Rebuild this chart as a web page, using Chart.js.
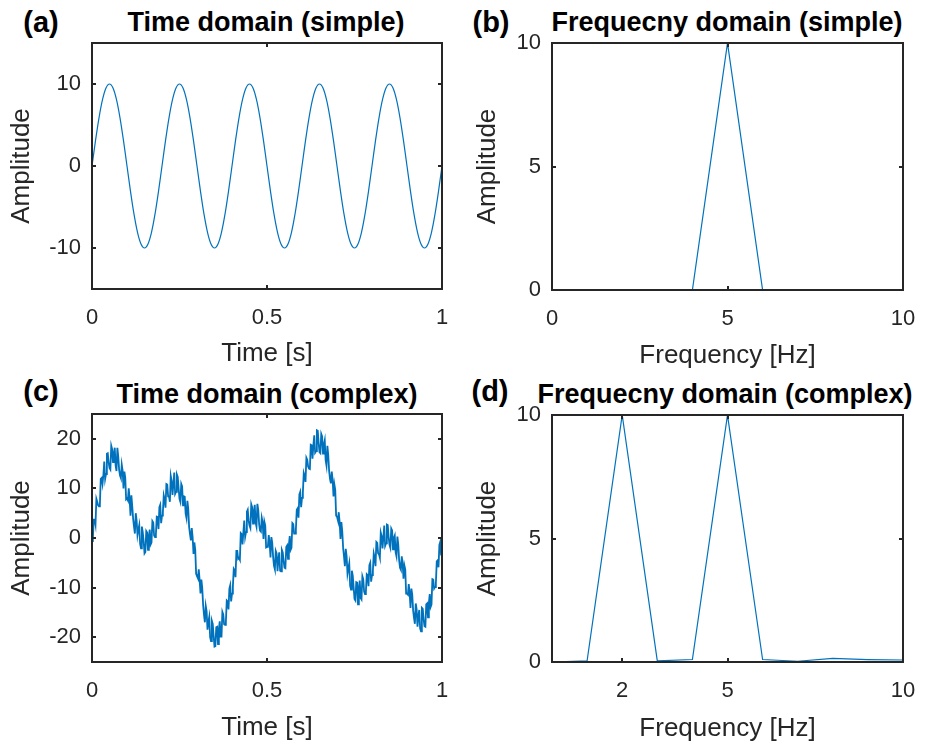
<!DOCTYPE html>
<html>
<head>
<meta charset="utf-8">
<script src="https://cdn.jsdelivr.net/npm/chart.js@4.4.1/dist/chart.umd.min.js"></script>
<style>
html,body{margin:0;padding:0;background:#fff;width:925px;height:746px;overflow:hidden;font-family:"Liberation Sans",Arial,sans-serif;}
.pane{position:absolute;}
.t{position:absolute;font-weight:bold;color:#000;white-space:nowrap;transform:translate(-50%,-50%);line-height:1;}
</style>
</head>
<body>
<div class="t" style="left:41px;top:22px;font-size:29px">(a)</div>
<div class="t" style="left:266px;top:22px;font-size:27px">Time domain (simple)</div>
<div class="t" style="left:491px;top:22px;font-size:29px">(b)</div>
<div class="t" style="left:727px;top:22px;font-size:27px">Frequecny domain (simple)</div>
<div class="t" style="left:41px;top:391px;font-size:29px">(c)</div>
<div class="t" style="left:267px;top:394px;font-size:27px">Time domain (complex)</div>
<div class="t" style="left:490px;top:391px;font-size:29px">(d)</div>
<div class="t" style="left:725px;top:394px;font-size:27px">Frequecny domain (complex)</div>

<div class="pane" style="left:0px;top:30px"><canvas id="ca" width="470" height="345"></canvas></div>
<div class="pane" style="left:470px;top:30px"><canvas id="cb" width="455" height="345"></canvas></div>
<div class="pane" style="left:0px;top:400px"><canvas id="cc" width="470" height="346"></canvas></div>
<div class="pane" style="left:470px;top:400px"><canvas id="cd" width="455" height="346"></canvas></div>

<script>
// ---------- data ----------
// (a) simple time signal, sampled every 0.01 s
const simpleTimeStep = 0.01;
const simpleAmp = [
 0,3.09,5.88,8.09,9.51,10,9.51,8.09,5.88,3.09,0,-3.09,-5.88,-8.09,-9.51,-10,-9.51,-8.09,-5.88,-3.09,
 0,3.09,5.88,8.09,9.51,10,9.51,8.09,5.88,3.09,0,-3.09,-5.88,-8.09,-9.51,-10,-9.51,-8.09,-5.88,-3.09,
 0,3.09,5.88,8.09,9.51,10,9.51,8.09,5.88,3.09,0,-3.09,-5.88,-8.09,-9.51,-10,-9.51,-8.09,-5.88,-3.09,
 0,3.09,5.88,8.09,9.51,10,9.51,8.09,5.88,3.09,0,-3.09,-5.88,-8.09,-9.51,-10,-9.51,-8.09,-5.88,-3.09,
 0,3.09,5.88,8.09,9.51,10,9.51,8.09,5.88,3.09,0,-3.09,-5.88,-8.09,-9.51,-10,-9.51,-8.09,-5.88,-3.09,
 0
];
// (b) simple spectrum
const freqSimple = [0,1,2,3,4,5,6,7,8,9,10];
const ampSimple  = [0,0,0,0,0,10,0,0,0,0,0];
// (c) complex (noisy) time signal, sampled every 0.0025 s
const complexTimeStep = 0.0025;
const complexAmp = [
 -0.6,-0.1,3.7,3.7,2.7,7.9,7.3,6.6,6.4,6.7,
 11.9,12.1,10.9,12.7,15.4,11.9,12.9,17.0,17.1,15.3,
 14.1,13.8,18.6,17.9,15.3,17.0,18.2,14.6,13.5,18.2,
 16.4,13.8,12.6,12.1,14.8,13.6,10.0,13.4,12.2,7.8,
 8.0,7.6,10.0,7.8,4.5,8.6,6.4,3.9,2.3,0.9,
 5.0,3.5,0.6,1.7,2.6,-1.2,-2.1,2.3,1.2,-0.6,
 -3.1,-2.8,1.4,1.1,-2.4,0.4,1.7,-1.3,-0.9,3.4,
 3.1,0.5,0.2,0.6,4.3,4.2,1.8,6.2,6.7,3.0,
 4.5,5.2,8.6,7.8,6.1,10.9,10.8,8.4,8.4,7.3,
 12.5,11.5,8.7,10.9,13.2,8.9,9.3,12.8,12.3,10.0,
 7.9,7.3,10.9,10.4,6.6,8.4,8.3,4.9,4.0,7.5,
 5.9,2.2,0.8,-0.5,2.0,0.2,-3.2,-0.9,-2.4,-7.2,
 -7.7,-8.1,-6.3,-8.5,-11.2,-8.4,-10.1,-13.5,-15.5,-17.0,
 -13.7,-14.8,-18.5,-16.9,-15.9,-20.0,-20.8,-16.7,-17.3,-19.7,
 -21.9,-21.8,-18.0,-17.9,-21.4,-18.4,-16.8,-19.9,-19.9,-14.9,
 -15.4,-17.4,-17.5,-16.9,-12.6,-12.8,-14.4,-10.2,-9.5,-12.8,
 -11.2,-9.8,-6.2,-6.5,-7.9,-2.6,-2.6,-4.2,-4.0,-4.4,
 1.0,0.8,-1.3,1.2,3.5,0.2,1.2,5.3,5.7,3.5,
 2.5,2.0,6.8,6.2,2.9,5.4,6.7,3.1,2.3,6.9,
 5.7,2.8,1.5,1.3,4.1,3.2,-0.2,3.3,2.5,-1.9,
 -1.8,-1.7,0.6,-1.0,-3.9,0.2,-1.0,-3.8,-5.6,-6.3,
 -2.6,-3.1,-6.7,-4.3,-2.9,-6.6,-6.7,-2.4,-2.9,-4.6,
 -6.0,-6.1,-1.8,-1.5,-4.2,-1.4,0.4,-2.4,-2.0,3.0,
 2.8,0.9,0.9,1.7,5.7,6.0,4.1,8.8,9.3,6.2,
 8.1,9.2,13.1,12.5,11.3,16.2,15.8,14.4,14.0,13.9,
 18.8,18.7,16.0,18.7,20.7,17.2,17.5,21.7,21.6,19.2,
 17.3,17.1,21.0,20.5,17.0,18.8,19.7,15.7,14.6,18.6,
 16.7,13.5,11.9,11.0,13.4,11.8,8.4,10.8,9.7,4.5,
 4.3,3.6,5.2,3.2,-0.2,3.2,1.4,-2.0,-3.7,-5.7,
 -2.2,-3.7,-7.2,-6.1,-5.1,-9.6,-10.4,-6.6,-7.6,-9.9,
 -12.3,-12.6,-8.9,-9.0,-13.4,-10.1,-8.6,-12.1,-12.4,-7.7,
 -8.3,-10.8,-11.3,-10.9,-7.3,-7.5,-9.7,-5.5,-5.0,-8.8,
 -7.5,-6.6,-3.1,-3.9,-5.7,-0.8,-1.0,-3.1,-3.3,-4.0,
 1.1,0.4,-2.1,0.1,2.5,-1.6,-1.1,2.7,2.6,0.2,
 -1.4,-2.0,1.9,1.5,-2.3,0.0,0.5,-2.9,-3.7,0.3,
 -1.3,-4.4,-6.0,-6.4,-3.7,-5.2,-8.2,-5.5,-6.3,-11.2,
 -11.2,-11.4,-9.3,-11.1,-14.1,-10.2,-11.4,-14.6,-16.1,-17.3,
 -13.2,-14.4,-17.9,-15.8,-14.5,-18.2,-18.8,-14.1,-14.3,-16.4,
 -17.8,-17.9,-13.4,-13.2,-16.0,-13.1,-11.3,-13.9,-13.4,-8.3,
 -8.4,-10.2,-9.9,-9.1,-4.7,-4.5,-5.9,-1.4,-0.8,-3.5,
 -1.0
];
// (d) complex spectrum
const freqComplex = [0,1,2,3,4,5,6,7,8,9,10];
const ampComplex  = [0,0.05,10,0.05,0.1,10,0.1,0.03,0.15,0.1,0.08];

// tick labels
const timeTicks = [0,0.5,1];
const ampTicksA = [-10,0,10];
const freqTicksB = [0,5,10];
const ampTicksBD = [0,5,10];
const ampTicksC = [-20,-10,0,10,20];
const freqTicksD = [2,5,10];

// ---------- drawing ----------
const FAMILY = '"Liberation Sans", Arial, Helvetica, sans-serif';
const AXIS = '#262626';
const LINE = '#0072BD';

const boxPlugin = {
  id: 'matlabBox',
  afterDraw(chart) {
    const {ctx, chartArea: a, scales: {x, y}} = chart;
    const L = 4;
    ctx.save();
    ctx.strokeStyle = AXIS;
    ctx.lineWidth = 2;
    ctx.beginPath();
    x.ticks.forEach(t => {
      const px = Math.round(x.getPixelForValue(t.value));
      ctx.moveTo(px, a.bottom); ctx.lineTo(px, a.bottom - L);
      ctx.moveTo(px, a.top); ctx.lineTo(px, a.top + L);
    });
    y.ticks.forEach(t => {
      const py = Math.round(y.getPixelForValue(t.value));
      ctx.moveTo(a.left, py); ctx.lineTo(a.left + L, py);
      ctx.moveTo(a.right, py); ctx.lineTo(a.right - L, py);
    });
    ctx.stroke();
    ctx.strokeRect(a.left, a.top, a.right - a.left, a.bottom - a.top);
    ctx.restore();
  }
};

function zeroPad(s) { s.paddingTop = 0; s.paddingBottom = 0; s.paddingLeft = 0; s.paddingRight = 0; }

function makePanel(id, p) {
  const pts = p.xs.map((xv, i) => ({x: xv, y: p.ys[i]}));
  new Chart(document.getElementById(id), {
    type: 'line',
    data: {datasets: [{data: pts, borderColor: LINE, borderWidth: p.lw || 1.2, pointRadius: 0, tension: p.tension || 0, fill: false}]},
    options: {
      responsive: false, animation: false, events: [],
      layout: {padding: {left: 0, top: p.areaTop - p.cTop, right: p.cLeft + p.cW - p.areaRight, bottom: 0}},
      plugins: {legend: {display: false}, tooltip: {enabled: false}, title: {display: false}},
      scales: {
        x: {
          type: 'linear', min: p.xMin, max: p.xMax,
          afterBuildTicks: s => { s.ticks = p.xTicks.map(v => ({value: v})); },
          afterFit: s => { s.height = p.cTop + p.cH - p.areaBottom; zeroPad(s); },
          grid: {display: false, drawTicks: false}, border: {display: false},
          ticks: {font: {family: FAMILY, size: 22}, color: AXIS, padding: p.xTickPad, maxRotation: 0, autoSkip: false, callback: v => String(v)},
          title: {display: true, text: p.xTitle, font: {family: FAMILY, size: 26}, color: AXIS, padding: {top: 0, bottom: p.xTitlePad}}
        },
        y: {
          type: 'linear', min: p.yMin, max: p.yMax,
          afterBuildTicks: s => { s.ticks = p.yTicks.map(v => ({value: v})); },
          afterFit: s => { s.width = p.areaLeft - p.cLeft; zeroPad(s); },
          grid: {display: false, drawTicks: false}, border: {display: false},
          ticks: {font: {family: FAMILY, size: 22}, color: AXIS, padding: p.yTickPad, autoSkip: false, callback: v => String(v)},
          title: {display: true, text: 'Amplitude', font: {family: FAMILY, size: 26}, color: AXIS, padding: {top: p.yTitlePad, bottom: 0}}
        }
      }
    },
    plugins: [boxPlugin]
  });
}

makePanel('ca', {
  xs: simpleAmp.map((_, i) => i * simpleTimeStep), ys: simpleAmp, tension: 0.3,
  cLeft: 0, cTop: 30, cW: 470, cH: 345,
  areaLeft: 92, areaTop: 43, areaRight: 442, areaBottom: 289,
  xMin: 0, xMax: 1, xTicks: timeTicks, yMin: -15, yMax: 15, yTicks: ampTicksA,
  xTitle: 'Time [s]', xTickPad: 16, yTickPad: 11, xTitlePad: 6, yTitlePad: 6
});
makePanel('cb', {
  xs: freqSimple, ys: ampSimple,
  cLeft: 470, cTop: 30, cW: 455, cH: 345,
  areaLeft: 552, areaTop: 43, areaRight: 903, areaBottom: 290,
  xMin: 0, xMax: 10, xTicks: freqTicksB, yMin: 0, yMax: 10, yTicks: ampTicksBD,
  xTitle: 'Frequency [Hz]', xTickPad: 16, yTickPad: 11, xTitlePad: 4, yTitlePad: 2
});
makePanel('cc', {
  xs: complexAmp.map((_, i) => i * complexTimeStep), ys: complexAmp, lw: 1.8,
  cLeft: 0, cTop: 400, cW: 470, cH: 346,
  areaLeft: 92, areaTop: 414, areaRight: 442, areaBottom: 662,
  xMin: 0, xMax: 1, xTicks: timeTicks, yMin: -25, yMax: 25, yTicks: ampTicksC,
  xTitle: 'Time [s]', xTickPad: 16, yTickPad: 11, xTitlePad: 3, yTitlePad: 6
});
makePanel('cd', {
  xs: freqComplex, ys: ampComplex,
  cLeft: 470, cTop: 400, cW: 455, cH: 346,
  areaLeft: 552, areaTop: 415, areaRight: 903, areaBottom: 662,
  xMin: 0, xMax: 10, xTicks: freqTicksD, yMin: 0, yMax: 10, yTicks: ampTicksBD,
  xTitle: 'Frequency [Hz]', xTickPad: 16, yTickPad: 11, xTitlePad: 2, yTitlePad: 2
});
</script>
</body>
</html>
